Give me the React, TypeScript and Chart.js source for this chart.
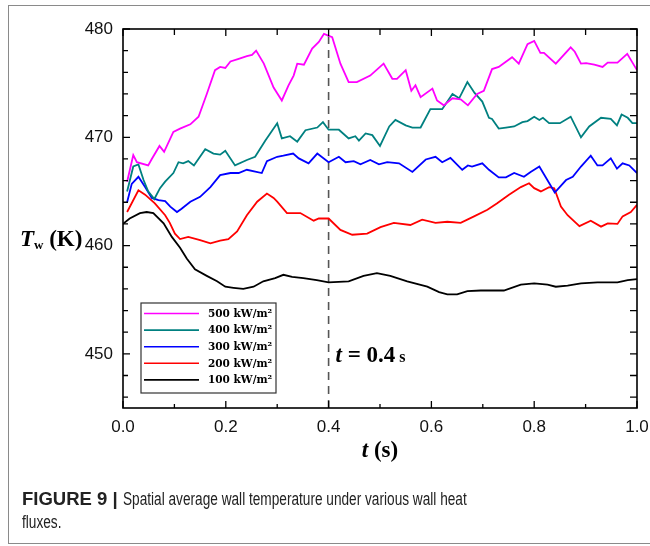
import React, { useEffect, useRef } from "react";
import { Chart, registerables } from "chart.js";
Chart.register(...registerables);

// ---------- data ----------
const SERIES_LABELS = ["500 kW/m²", "400 kW/m²", "300 kW/m²", "200 kW/m²", "100 kW/m²"];
const SERIES_COLORS = ["#ff00ff", "#008080", "#0000ff", "#ff0000", "#000000"];

const t500 = [0.008, 0.02, 0.027, 0.049, 0.056, 0.071, 0.08, 0.098, 0.111, 0.131, 0.147, 0.163, 0.179, 0.189, 0.199, 0.209, 0.225, 0.241, 0.251, 0.259, 0.274, 0.293, 0.309, 0.322, 0.332, 0.339, 0.352, 0.368, 0.381, 0.391, 0.407, 0.423, 0.439, 0.455, 0.481, 0.507, 0.524, 0.533, 0.55, 0.561, 0.569, 0.579, 0.602, 0.611, 0.624, 0.641, 0.657, 0.671, 0.689, 0.702, 0.718, 0.731, 0.757, 0.77, 0.787, 0.8, 0.812, 0.819, 0.842, 0.871, 0.879, 0.891, 0.901, 0.917, 0.933, 0.943, 0.962, 0.981, 1.0];
const T500 = [465.9, 468.35, 467.7, 467.4, 468.0, 469.2, 468.65, 470.5, 470.8, 471.2, 471.9, 474.0, 476.2, 476.5, 476.4, 477.0, 477.25, 477.5, 477.6, 478.0, 476.8, 474.6, 473.4, 474.8, 475.7, 476.8, 476.7, 478.2, 478.8, 479.55, 479.25, 476.8, 475.1, 475.1, 475.7, 476.8, 475.4, 475.4, 476.2, 474.3, 474.8, 473.7, 474.5, 473.4, 472.95, 473.6, 473.5, 472.95, 474.0, 474.3, 476.3, 476.5, 477.4, 476.8, 478.6, 478.9, 477.8, 477.8, 476.8, 478.3, 477.9, 476.8, 476.85, 476.7, 476.5, 476.9, 476.9, 477.7, 476.2];

const t400 = [0.008, 0.02, 0.03, 0.04, 0.049, 0.061, 0.072, 0.082, 0.098, 0.108, 0.117, 0.127, 0.138, 0.16, 0.176, 0.189, 0.199, 0.218, 0.241, 0.257, 0.277, 0.3, 0.309, 0.325, 0.339, 0.355, 0.378, 0.389, 0.4, 0.42, 0.439, 0.452, 0.459, 0.472, 0.485, 0.5, 0.518, 0.53, 0.55, 0.563, 0.579, 0.598, 0.621, 0.641, 0.654, 0.67, 0.684, 0.699, 0.712, 0.718, 0.731, 0.745, 0.761, 0.777, 0.787, 0.8, 0.81, 0.817, 0.829, 0.85, 0.871, 0.891, 0.907, 0.93, 0.949, 0.961, 0.97, 0.982, 0.991, 1.0];
const T400 = [465.0, 467.3, 467.5, 466.05, 465.0, 464.3, 465.3, 465.9, 466.7, 467.7, 467.6, 467.8, 467.4, 468.9, 468.5, 468.4, 468.75, 467.4, 467.9, 468.2, 469.7, 471.3, 469.9, 470.1, 469.6, 470.65, 470.9, 471.4, 470.7, 470.7, 469.9, 470.1, 469.7, 470.35, 470.2, 469.2, 471.0, 471.6, 471.1, 470.9, 470.9, 472.6, 472.6, 474.0, 473.6, 475.1, 474.1, 473.3, 471.8, 471.7, 470.8, 470.9, 471.0, 471.4, 471.5, 471.9, 471.6, 471.8, 471.3, 471.3, 471.9, 470.0, 471.0, 471.8, 471.7, 471.1, 472.1, 471.8, 471.3, 471.3];

const t300 = [0.008, 0.017, 0.03, 0.043, 0.056, 0.069, 0.082, 0.092, 0.105, 0.114, 0.131, 0.15, 0.17, 0.189, 0.209, 0.225, 0.241, 0.27, 0.28, 0.3, 0.312, 0.331, 0.342, 0.361, 0.378, 0.4, 0.42, 0.433, 0.449, 0.462, 0.481, 0.498, 0.514, 0.537, 0.563, 0.589, 0.608, 0.621, 0.637, 0.66, 0.671, 0.679, 0.699, 0.712, 0.731, 0.745, 0.761, 0.78, 0.793, 0.81, 0.84, 0.862, 0.875, 0.891, 0.91, 0.923, 0.933, 0.949, 0.961, 0.972, 0.985, 1.0];
const T300 = [464.0, 465.7, 466.35, 465.4, 464.4, 464.2, 464.1, 463.6, 463.1, 463.4, 464.05, 464.5, 465.4, 466.5, 466.7, 466.7, 467.0, 466.7, 467.8, 468.2, 468.3, 468.5, 468.05, 467.6, 468.5, 467.7, 468.2, 467.7, 467.8, 467.5, 467.9, 467.5, 467.7, 467.6, 466.8, 467.95, 468.2, 467.7, 468.1, 467.0, 467.4, 467.3, 467.6, 467.0, 466.3, 466.3, 466.7, 466.35, 466.8, 467.3, 464.9, 466.05, 466.35, 467.3, 468.3, 467.4, 467.4, 468.05, 467.1, 467.6, 467.4, 466.7];

const t200 = [0.008, 0.03, 0.043, 0.062, 0.082, 0.091, 0.101, 0.111, 0.127, 0.15, 0.17, 0.189, 0.205, 0.222, 0.241, 0.261, 0.28, 0.293, 0.3, 0.319, 0.345, 0.371, 0.381, 0.4, 0.423, 0.446, 0.475, 0.501, 0.527, 0.559, 0.582, 0.608, 0.631, 0.657, 0.683, 0.709, 0.728, 0.751, 0.774, 0.79, 0.8, 0.813, 0.829, 0.839, 0.852, 0.865, 0.888, 0.91, 0.93, 0.943, 0.962, 0.972, 0.988, 1.0];
const T200 = [463.1, 465.1, 464.7, 463.9, 462.8, 462.1, 461.1, 460.6, 460.8, 460.5, 460.2, 460.45, 460.6, 461.3, 462.8, 464.05, 464.8, 464.4, 464.05, 463.0, 463.0, 462.3, 462.5, 462.5, 461.45, 461.0, 461.1, 461.7, 462.1, 461.9, 462.4, 462.1, 462.2, 462.1, 462.7, 463.3, 463.9, 464.7, 465.4, 465.75, 465.3, 465.0, 465.4, 465.3, 463.6, 462.8, 461.8, 462.3, 461.75, 462.05, 462.0, 462.7, 463.1, 463.75];

const t100 = [0.0, 0.013, 0.033, 0.046, 0.059, 0.079, 0.095, 0.111, 0.124, 0.14, 0.163, 0.183, 0.199, 0.215, 0.234, 0.254, 0.273, 0.296, 0.312, 0.329, 0.351, 0.377, 0.4, 0.439, 0.468, 0.494, 0.52, 0.553, 0.592, 0.615, 0.631, 0.65, 0.67, 0.696, 0.741, 0.774, 0.8, 0.826, 0.842, 0.865, 0.891, 0.923, 0.962, 0.982, 1.0];
const T100 = [462.0, 462.5, 463.0, 463.1, 463.0, 462.05, 460.8, 459.8, 458.8, 457.8, 457.2, 456.7, 456.2, 456.1, 456.0, 456.2, 456.7, 457.0, 457.3, 457.1, 457.0, 456.8, 456.6, 456.7, 457.2, 457.45, 457.2, 456.7, 456.2, 455.7, 455.5, 455.5, 455.8, 455.85, 455.85, 456.4, 456.5, 456.4, 456.2, 456.3, 456.5, 456.6, 456.6, 456.8, 456.9];

const SERIES_T = [t500, t400, t300, t200, t100];
const SERIES_V = [T500, T400, T300, T200, T100];

const X_MIN = 0, X_MAX = 1;
const Y_MIN = 445, Y_MAX = 480;
const X_TICKS = [0, 0.2, 0.4, 0.6, 0.8, 1.0];
const X_MINOR = [0.1, 0.3, 0.5, 0.7, 0.9];
const Y_TICKS = [450, 460, 470, 480];
const Y_MINOR = [446, 448, 452, 454, 456, 458, 462, 464, 466, 468, 472, 474, 476, 478];
const MARK_T = 0.4;

// ---------- drawing helpers ----------
type Run = { text: string; font: string; dy?: number };
function runsWidth(ctx: CanvasRenderingContext2D, runs: Run[]) {
  let w = 0;
  for (const r of runs) { ctx.font = r.font; w += ctx.measureText(r.text).width; }
  return w;
}
function drawRuns(ctx: CanvasRenderingContext2D, runs: Run[], x: number, y: number) {
  let cx = x;
  for (const r of runs) {
    ctx.font = r.font;
    ctx.fillText(r.text, cx, y + (r.dy || 0));
    cx += ctx.measureText(r.text).width;
  }
}

const SERIF = '"Liberation Serif", "DejaVu Serif", serif';

const decorPlugin = {
  id: "decor",
  afterDatasetsDraw(chart: any) {
    const ctx: CanvasRenderingContext2D = chart.ctx;
    const xs = chart.scales.x, ys = chart.scales.y;
    const { left, right, top, bottom } = chart.chartArea;
    ctx.save();
    // frame
    ctx.strokeStyle = "#000";
    ctx.lineWidth = 1.6;
    ctx.strokeRect(left, top, right - left, bottom - top);
    // inward ticks
    ctx.lineWidth = 1.3;
    ctx.beginPath();
    for (const v of X_TICKS) {
      const px = xs.getPixelForValue(v);
      ctx.moveTo(px, bottom); ctx.lineTo(px, bottom - 7);
      ctx.moveTo(px, top); ctx.lineTo(px, top + 7);
    }
    for (const v of X_MINOR) {
      const px = xs.getPixelForValue(v);
      ctx.moveTo(px, bottom); ctx.lineTo(px, bottom - 4);
      ctx.moveTo(px, top); ctx.lineTo(px, top + 6);
    }
    for (const v of Y_TICKS) {
      const py = ys.getPixelForValue(v);
      ctx.moveTo(left, py); ctx.lineTo(left + 7, py);
      ctx.moveTo(right, py); ctx.lineTo(right - 7, py);
    }
    for (const v of Y_MINOR) {
      const py = ys.getPixelForValue(v);
      ctx.moveTo(left, py); ctx.lineTo(left + 5, py);
      ctx.moveTo(right, py); ctx.lineTo(right - 7, py);
    }
    ctx.stroke();

    ctx.fillStyle = "#000";
    ctx.textBaseline = "alphabetic";
    // x title
    const xr: Run[] = [
      { text: "t", font: `italic bold 23px ${SERIF}` },
      { text: " (s)", font: `bold 23px ${SERIF}` },
    ];
    const xw = runsWidth(ctx, xr);
    drawRuns(ctx, xr, (left + right) / 2 - xw / 2, bottom + 49);
    // y title
    const yr: Run[] = [
      { text: "T", font: `italic bold 23px ${SERIF}` },
      { text: "w", font: `bold 13px ${SERIF}`, dy: 3 },
      { text: " (K)", font: `bold 23px ${SERIF}` },
    ];
    drawRuns(ctx, yr, 20, top + 217);

    // annotation near the dashed line
    const ar: Run[] = [
      { text: "t", font: `italic bold 23px ${SERIF}` },
      { text: " = 0.4", font: `bold 23px ${SERIF}` },
      { text: " s", font: `bold 16px ${SERIF}` },
    ];
    drawRuns(ctx, ar, xs.getPixelForValue(MARK_T) + 7, ys.getPixelForValue(450) + 8);

    // legend box
    const lx = left + 18, ly = top + 274, lw = 135, lh = 90;
    ctx.fillStyle = "#fff";
    ctx.fillRect(lx, ly, lw, lh);
    ctx.strokeStyle = "#333";
    ctx.lineWidth = 1.2;
    ctx.strokeRect(lx, ly, lw, lh);
    const items = chart.data.datasets.filter((d: any) => !d.isMarker);
    items.forEach((d: any, i: number) => {
      const yy = ly + 10.5 + i * 16.6;
      ctx.strokeStyle = d.borderColor;
      ctx.lineWidth = 1.6;
      ctx.beginPath();
      ctx.moveTo(lx + 3, yy); ctx.lineTo(lx + 58, yy);
      ctx.stroke();
      ctx.fillStyle = "#000";
      ctx.font = `bold 10.5px "DejaVu Serif", serif`;
      ctx.textBaseline = "middle";
      ctx.fillText(d.label, lx + 67, yy + 0.5);
    });
    ctx.restore();
  },
};

export default function App() {
  const ref = useRef<HTMLCanvasElement | null>(null);
  useEffect(() => {
    document.body.style.margin = "0";
    const canvas = ref.current;
    if (!canvas) return;
    const datasets: any[] = SERIES_LABELS.map((label, i) => ({
      label,
      data: SERIES_T[i].map((t, j) => ({ x: t, y: SERIES_V[i][j] })),
      borderColor: SERIES_COLORS[i],
      backgroundColor: SERIES_COLORS[i],
      borderWidth: 1.8,
      pointRadius: 0,
      tension: 0,
      fill: false,
    }));
    datasets.push({
      label: "marker",
      isMarker: true,
      data: [{ x: MARK_T, y: Y_MIN }, { x: MARK_T, y: Y_MAX }],
      borderColor: "#555",
      borderWidth: 1.6,
      borderDash: [8, 6],
      pointRadius: 0,
      fill: false,
    });
    const chart = new Chart(canvas, {
      type: "line",
      data: { datasets },
      options: {
        responsive: false,
        animation: false,
        layout: { padding: { top: 29, right: 13, left: 0, bottom: 0 } },
        plugins: { legend: { display: false }, tooltip: { enabled: false } },
        scales: {
          x: {
            type: "linear",
            min: X_MIN,
            max: X_MAX,
            afterBuildTicks: (s: any) => { s.ticks = X_TICKS.map((v) => ({ value: v })); },
            afterFit: (s: any) => { s.height = 138; s.paddingLeft = 0; s.paddingRight = 0; },
            grid: { display: false, drawTicks: false },
            border: { display: false },
            ticks: {
              padding: 9,
              color: "#111",
              font: { family: '"Liberation Sans", Arial, sans-serif', size: 17 },
              callback: (v: any) => Number(v).toFixed(1),
              maxRotation: 0,
            },
          },
          y: {
            type: "linear",
            min: Y_MIN,
            max: Y_MAX,
            afterBuildTicks: (s: any) => { s.ticks = Y_TICKS.map((v) => ({ value: v })); },
            afterFit: (s: any) => { s.width = 123; s.paddingTop = 0; s.paddingBottom = 0; },
            grid: { display: false, drawTicks: false },
            border: { display: false },
            ticks: {
              padding: 10,
              color: "#111",
              font: { family: '"Liberation Sans", Arial, sans-serif', size: 17 },
              callback: (v: any) => String(v),
            },
          },
        },
      },
      plugins: [decorPlugin],
    } as any);
    return () => chart.destroy();
  }, []);

  const condensed: React.CSSProperties = {
    display: "inline-block",
    transform: "scaleX(0.78)",
    transformOrigin: "0 0",
    whiteSpace: "nowrap",
    fontWeight: 400,
  };

  return (
    <div style={{ position: "relative", width: 650, height: 546, overflow: "hidden", background: "#fff" }}>
      <div
        style={{
          position: "absolute", left: 8, top: 5, width: 660, height: 539,
          border: "1px solid #8a8a8a", boxSizing: "border-box",
        }}
      />
      <canvas ref={ref} width={650} height={546} style={{ position: "absolute", left: 0, top: 0 }} />
      <div
        style={{
          position: "absolute", left: 22, top: 487, width: 620,
          fontFamily: '"Liberation Sans", Arial, sans-serif', fontSize: 17.5,
          lineHeight: "23px", color: "#222", whiteSpace: "nowrap",
        }}
      >
        <div>
          <b style={{ fontWeight: 700, fontSize: 18.5 }}>FIGURE 9 | </b>
          <span style={condensed}>Spatial average wall temperature under various wall heat</span>
        </div>
        <div>
          <span style={condensed}>fluxes.</span>
        </div>
      </div>
    </div>
  );
}
